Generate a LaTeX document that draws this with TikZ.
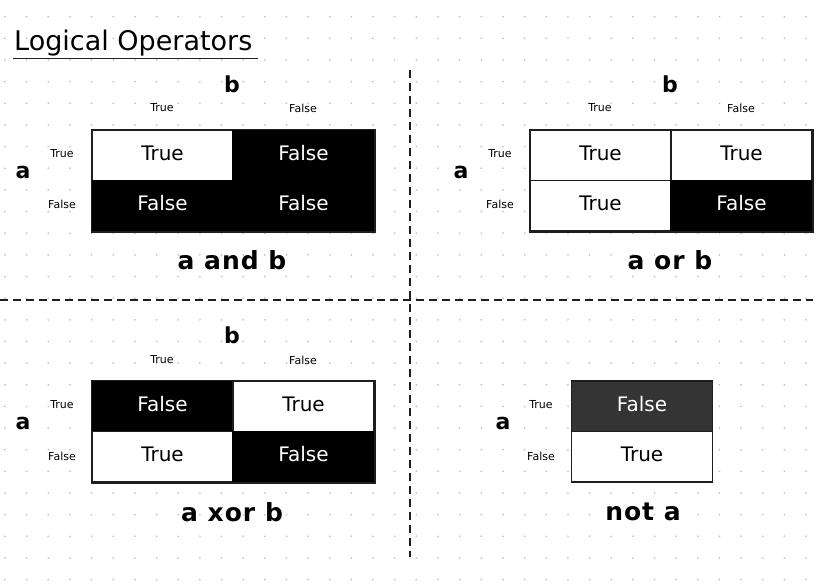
\documentclass[tikz,border=0pt]{standalone}
\usepackage{fontspec}
\setmainfont{DejaVu Sans}
\begin{document}
\begin{tikzpicture}[x=1pt,y=-1pt,
  cellw/.style={draw=ink, fill=white, line width=1.5pt, minimum width=141pt, minimum height=50.5pt, inner sep=0pt, text depth=5pt, font=\fontsize{20}{20}\selectfont},
  cellk/.style={cellw, draw=black, fill=black, text=white},
  celld/.style={cellw, fill=darkcell, text=white},
  hdr/.style={inner sep=0pt, font=\fontsize{11}{11}\selectfont},
  var/.style={inner sep=0pt, font=\bfseries\fontsize{22}{22}\selectfont},
  capt/.style={inner sep=0pt, font=\bfseries\fontsize{25}{25}\selectfont\addfontfeature{LetterSpace=4}},
  divider/.style={draw=ink, line width=1.5pt, dash pattern=on 8pt off 5pt}
]
\definecolor{ink}{HTML}{1E1E1E}
\definecolor{dotc}{HTML}{C4C4C4}
\definecolor{darkcell}{HTML}{343434}
\useasboundingbox (0,0) rectangle (819,586);
\fill[white] (0,0) rectangle (819,586);
% dotted grid
\foreach \i in {0,...,37}{
  \foreach \j in {0,...,26}{
    \fill[dotc] ({5+21.65*\i},{16.7+21.65*\j}) circle (1pt);
  }
}
% title
\node[anchor=base west, inner sep=0pt, font=\fontsize{27}{27}\selectfont] (title) at (14,51) {Logical Operators};
\coordinate (ul1) at (13,58.5);
\coordinate (ul2) at (258,58.5);
\draw[ink, line width=1.8pt] (ul1) -- (ul2);
% dividers
\coordinate (vt) at (410,70);
\coordinate (vb) at (410,557);
\coordinate (hl) at (0,300);
\coordinate (hr) at (813,300);
\draw[divider] (vt) -- (vb);
\draw[divider] (hl) -- (hr);

% ---------- AND ----------
\node[var] (b1) at (232,84) {b};
\node[hdr] (b1t) at (162,108) {True};
\node[hdr] (b1f) at (303,108) {False};
\node[var] (a1) at (23,172) {a};
\node[hdr] (a1t) at (62,154) {True};
\node[hdr] (a1f) at (62,204) {False};
\node[cellw] (c1tt) at (162.5,155.25) {True};
\node[cellk] (c1tf) at (303.5,155.25) {False};
\node[cellk] (c1ft) at (162.5,205.75) {False};
\node[cellk] (c1ff) at (303.5,205.75) {False};
\draw[ink, line width=1.5pt] (c1tt.north west) rectangle (c1ff.south east);
\node[capt] (l1) at (232,260) {a and b};

% ---------- OR ----------
\node[var] (b2) at (670,84) {b};
\node[hdr] (b2t) at (600,108) {True};
\node[hdr] (b2f) at (741,108) {False};
\node[var] (a2) at (461,172) {a};
\node[hdr] (a2t) at (500,154) {True};
\node[hdr] (a2f) at (500,204) {False};
\node[cellw] (c2tt) at (600.5,155.25) {True};
\node[cellw] (c2tf) at (741.5,155.25) {True};
\node[cellw] (c2ft) at (600.5,205.75) {True};
\node[cellk] (c2ff) at (741.5,205.75) {False};
\draw[ink, line width=1.5pt] (c2tt.north west) rectangle (c2ff.south east);
\node[capt] (l2) at (670,260) {a or b};

% ---------- XOR ----------
\node[var] (b3) at (232,335) {b};
\node[hdr] (b3t) at (162,360) {True};
\node[hdr] (b3f) at (303,360) {False};
\node[var] (a3) at (23,423) {a};
\node[hdr] (a3t) at (62,405) {True};
\node[hdr] (a3f) at (62,456) {False};
\node[cellk] (c3tt) at (162.5,406.25) {False};
\node[cellw] (c3tf) at (303.5,406.25) {True};
\node[cellw] (c3ft) at (162.5,456.75) {True};
\node[cellk] (c3ff) at (303.5,456.75) {False};
\draw[ink, line width=1.5pt] (c3tt.north west) rectangle (c3ff.south east);
\node[capt] (l3) at (232,512) {a xor b};

% ---------- NOT ----------
\node[var] (a4) at (503,423) {a};
\node[hdr] (a4t) at (541,405) {True};
\node[hdr] (a4f) at (541,456) {False};
\node[celld] (c4t) at (642,406.25) {False};
\node[cellw] (c4f) at (642,456.75) {True};
\node[capt] (l4) at (643,512) {not a};
\end{tikzpicture}
\end{document}
